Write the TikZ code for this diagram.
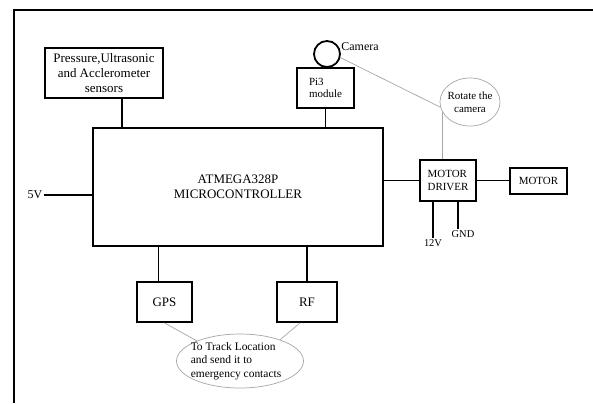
\documentclass[tikz,border=0pt]{standalone}
\usepackage{fontspec}
\setmainfont{Liberation Serif}
\usetikzlibrary{shapes.geometric}

\begin{document}
\begin{tikzpicture}[x=1bp,y=-1bp,
  blk/.style={draw,line width=1.8bp,inner sep=1bp,font=\fontsize{11}{12.5}\selectfont},
  note/.style={draw=gray!70,line width=0.7bp,ellipse,inner sep=0pt},
  lbl/.style={inner sep=1bp,font=\fontsize{#1}{#1}\selectfont},
  wire/.style={line width=1.8bp},
  gwire/.style={gray!70,line width=0.7bp}]
\useasboundingbox (0,0) rectangle (593,403);
% frame
\draw[wire] (14,403) |- (593,10);
% blocks
\node[blk,minimum width=118bp,minimum height=50bp,align=center,font=\fontsize{13}{15}\selectfont] (sens) at (104,73) {Pressure,Ultrasonic\\and Acclerometer\\sensors};
\node[blk,minimum width=290bp,minimum height=118bp,align=center,font=\fontsize{13}{15}\selectfont] (mcu) at (238,187) {ATMEGA328P\\MICROCONTROLLER};
\node[blk,minimum width=57bp,minimum height=40bp,align=left] (pi) at (325.5,88) {Pi3\\module};
\node[draw,circle,line width=1.8bp,minimum size=26bp,inner sep=0pt] (cam) at (327,54) {};
\node[lbl=12] (camlbl) at (360,47) {Camera};
\node[note,minimum width=60bp,minimum height=48bp] (rot) at (470,102) {};
\node[lbl=11,align=center,font=\fontsize{11}{13}\selectfont] (rottxt) at (rot) {Rotate the\\camera};
\node[blk,minimum width=56bp,minimum height=41bp,align=left] (drv) at (448,180.5) {MOTOR\\DRIVER};
\node[blk,minimum width=57bp,minimum height=26bp] (mot) at (538.5,181) {MOTOR};
\node[blk,minimum width=55bp,minimum height=40bp,font=\fontsize{13}{15}\selectfont] (gps) at (164.5,302) {GPS};
\node[blk,minimum width=60bp,minimum height=40bp,font=\fontsize{13}{15}\selectfont] (rf) at (307,302) {RF};
\node[note,minimum width=127bp,minimum height=54bp] (trk) at (240,361) {};
\node[lbl=11.5,align=left,font=\fontsize{11.5}{13.5}\selectfont] (trktxt) at (236,361) {To Track Location\\and send it to\\emergency contacts};
% supply labels
\node[lbl=12] (v5) at (35,195) {5V};
\node[lbl=10.5] (v12) at (433,243) {12V};
\node[lbl=10.5] (gnd) at (463,234) {GND};
% wires
\draw[wire] ([xshift=18bp]sens.south) -- ([xshift=18bp]sens.south |- mcu.north);
\draw[wire] (pi.south) -- (pi.south |- mcu.north);
\draw[wire] (v5.east) -- (v5.east -| mcu.west);
\draw[wire] (drv.west) -- (drv.west -| mcu.east);
\draw[wire] (drv.east) -- (drv.east -| mot.west);
\draw[wire] ([xshift=-15bp]drv.south) -- ([xshift=-15bp]drv.south |- v12.north);
\draw[wire] ([xshift=10bp]drv.south) -- ([xshift=10bp]drv.south |- gnd.north);
\draw[wire] ([xshift=-6bp]gps.north) -- ([xshift=-6bp]gps.north |- mcu.south);
\draw[wire] (rf.north) -- (rf.north |- mcu.south);
% notes
\draw[gwire] (cam.-15) -- (rot.190);
\draw[gwire] (rot.200) -- (rot.200 |- drv.north);
\draw[gwire] (gps.south) -- (trk.155);
\draw[gwire] ([xshift=-7bp]rf.south) -- (trk.28);
\end{tikzpicture}
\end{document}
